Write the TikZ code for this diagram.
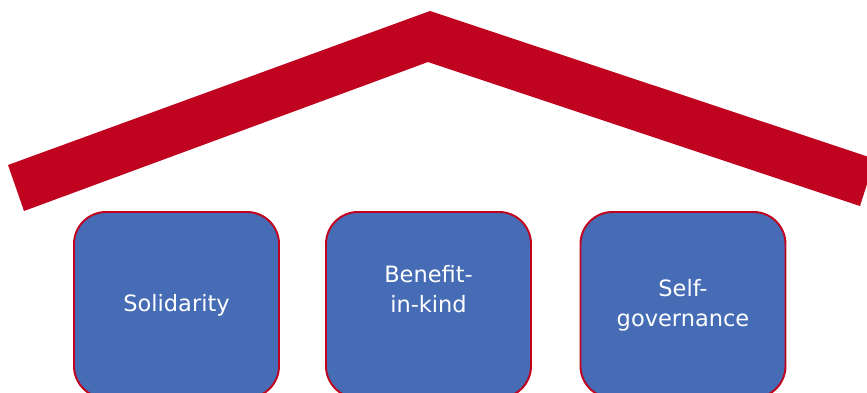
\documentclass[tikz,border=0pt]{standalone}
\usepackage{fontspec}
\setsansfont{DejaVu Sans}
\usepackage{tikz}
\usepackage{xcolor}
\definecolor{roofred}{RGB}{192,4,32}
\definecolor{pillarblue}{RGB}{70,108,182}
\tikzset{%
    pillar/.style={%
        draw=roofred, line width=1.4pt, fill=pillarblue,
        rounded corners=0.8cm,
        minimum width=5.125cm, minimum height=4.65cm
    },
    pillartext/.style={%
        text=white, align=center,
        font=\sffamily\fontsize{16}{21.3}\selectfont
    }
}

\begin{document}
\begin{tikzpicture}
    \clip (0,0) rectangle (21.675,9.8);
    % roof
    \fill[roofred] (0.2,5.675) -- (10.75,9.525) -- (21.875,5.825)
        -- (21.5,4.65) -- (10.7,8.25) -- (0.6,4.525) -- cycle;
    % pillars
    \foreach \x/\name in {4.4125/solid,10.7125/kind,17.075/self}
    {
    \node[pillar] (\name) at (\x,2.175) {};
    }
    \node[pillartext] (solidtext) at (solid.center) {Solidarity};
    \node[pillartext] (kindtext) at ([yshift=0.4cm]kind.center) {Benefit-\\in-kind};
    \node[pillartext] (selftext) at (self.center) {Self-\\governance};
\end{tikzpicture}
\end{document}
